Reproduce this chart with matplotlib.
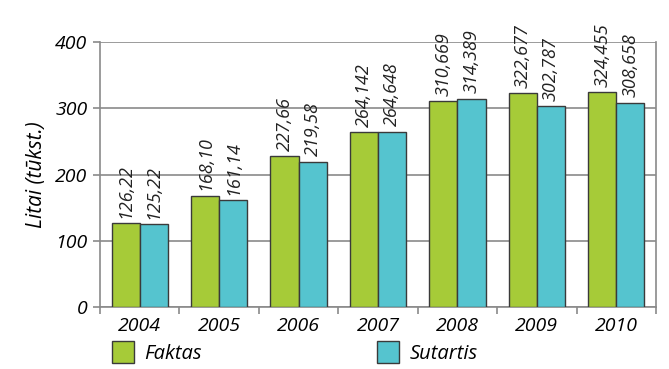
import numpy as np
import matplotlib.pyplot as plt
from matplotlib.patches import Patch

years = ['2004', '2005', '2006', '2007', '2008', '2009', '2010']
faktas = [126.22, 168.10, 227.66, 264.142, 310.669, 322.677, 324.455]
sutartis = [125.22, 161.14, 219.58, 264.648, 314.389, 302.787, 308.658]
faktas_lbl = ['126,22', '168,10', '227,66', '264,142', '310,669', '322,677', '324,455']
sutartis_lbl = ['125,22', '161,14', '219,58', '264,648', '314,389', '302,787', '308,658']

green = '#a6cb38'
cyan = '#55c4cf'
edge = '#3a3a3a'
grid_c = '#8a8a8a'

plt.rcParams['font.family'] = ['Open Sans', 'DejaVu Sans']
plt.rcParams['font.style'] = 'italic'

fig = plt.figure(figsize=(6.69, 3.69), dpi=100)
ax = fig.add_axes([100/669, 1-307/369, 556/669, 265/369])

x = np.arange(len(years))
w = 0.355
ax.bar(x - w/2, faktas, w, color=green, edgecolor=edge, lw=1, zorder=3)
ax.bar(x + w/2, sutartis, w, color=cyan, edgecolor=edge, lw=1, zorder=3)

# value labels, rotated, sitting just above each bar
for xi, v, s in zip(x - w/2, faktas, faktas_lbl):
    ax.text(xi, v + 8, s, rotation=90, ha='center', va='bottom', fontsize=13, color='#222222')
for xi, v, s in zip(x + w/2, sutartis, sutartis_lbl):
    ax.text(xi, v + 8, s, rotation=90, ha='center', va='bottom', fontsize=13, color='#222222')

ax.set_xlim(-0.5, len(years) - 0.5)
ax.set_ylim(0, 400)
ax.set_yticks([0, 100, 200, 300, 400])
ax.yaxis.grid(True, color=grid_c, lw=1.2, zorder=0)
ax.set_xticks(x)
ax.set_xticklabels(years)
ax.set_xticks(np.arange(-0.5, len(years)), minor=True)
ax.tick_params(axis='x', which='major', length=0, pad=7, labelsize=14)
ax.tick_params(axis='x', which='minor', length=5, color=grid_c, width=1.2)
ax.tick_params(axis='y', length=5, color=grid_c, width=1.2, labelsize=14, pad=4)

for side in ['left', 'right', 'bottom']:
    ax.spines[side].set_color(grid_c)
    ax.spines[side].set_linewidth(1.2)
ax.spines['top'].set_visible(False)

ax.set_ylabel('Litai (tūkst.)', fontsize=15, labelpad=6)

fig.legend(handles=[Patch(facecolor=green, edgecolor=edge)], labels=['Faktas'],
           loc='lower left', bbox_to_anchor=(108/669, 1/369), frameon=False,
           fontsize=14.5, handlelength=1.1, handleheight=1.3, handletextpad=0.5,
           borderaxespad=0, borderpad=0.2)
fig.legend(handles=[Patch(facecolor=cyan, edgecolor=edge)], labels=['Sutartis'],
           loc='lower left', bbox_to_anchor=(373/669, 1/369), frameon=False,
           fontsize=14.5, handlelength=1.1, handleheight=1.3, handletextpad=0.5,
           borderaxespad=0, borderpad=0.2)

fig.savefig('out.png', dpi=100)
